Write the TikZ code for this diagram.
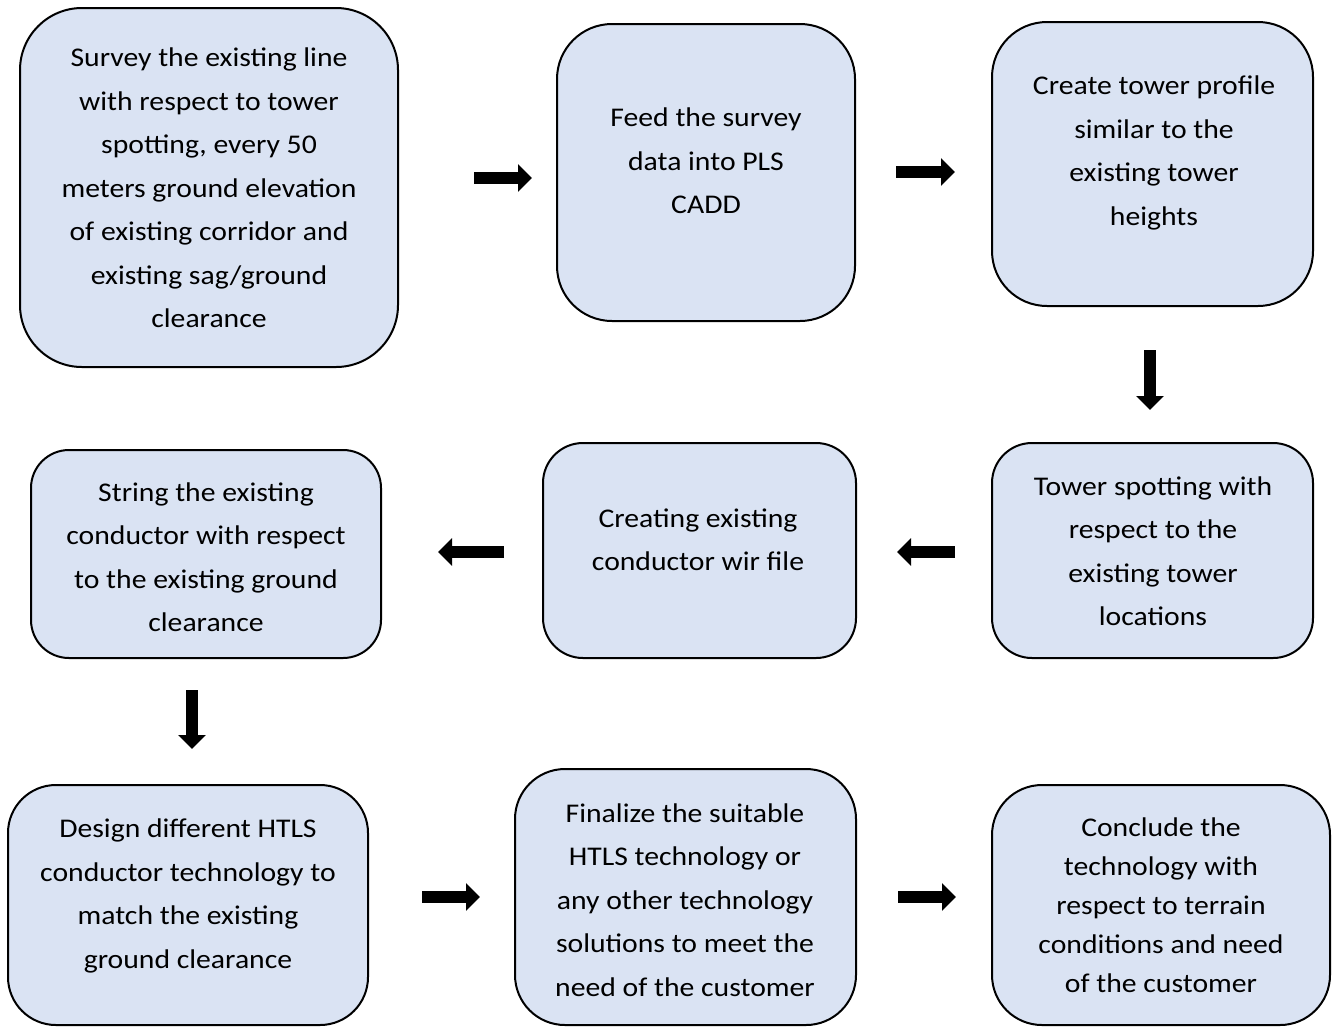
\documentclass[tikz,border=0pt]{standalone}
\usepackage{fontspec}
\setmainfont{Carlito}[FakeStretch=1.1]
\usetikzlibrary{arrows.meta}
\definecolor{boxblue}{HTML}{DAE3F3}
\tikzset{
	stepbox/.style={line width=2pt, draw=black, fill=boxblue},
	steptext/.style={align=center, inner sep=0pt, font=\fontsize{27}{43.5}\selectfont},
	blockarrow/.style={line width=12pt, -{Triangle[width=27pt,length=14pt]}}
}
\begin{document}
\begin{tikzpicture}[x=1pt, y=-1pt]
	\useasboundingbox (0,0) rectangle (1337,1026);
	% obere Reihe
	\filldraw[stepbox, rounded corners=62pt] (20,8) rectangle (398,367);
	\node[steptext] (survey) at (209,188) {Survey the existing line\\with respect to tower\\spotting, every 50\\meters ground elevation\\of existing corridor and\\existing sag/ground\\clearance};
	\filldraw[stepbox, rounded corners=55pt] (557,24) rectangle (855,321);
	\node[steptext] (feed) at (706,161) {Feed the survey\\data into PLS\\CADD};
	\filldraw[stepbox, rounded corners=55pt] (992,22) rectangle (1313,306);
	\node[steptext] (profile) at (1154,153) {Create tower profile\\similar to the\\existing tower\\heights};
	% mittlere Reihe
	\filldraw[stepbox, rounded corners=40pt] (992,443) rectangle (1313,658);
	\node[steptext] (spotting) at (1153,551) {Tower spotting with\\respect to the\\existing tower\\locations};
	\filldraw[stepbox, rounded corners=40pt] (543,443) rectangle (856,658);
	\node[steptext] (wirfile) at (698,540) {Creating existing\\conductor wir file};
	\filldraw[stepbox, rounded corners=38pt] (31,450) rectangle (381,658);
	\node[steptext] (string) at (206,557) {String the existing\\conductor with respect\\to the existing ground\\clearance};
	% untere Reihe
	\filldraw[stepbox, rounded corners=48pt] (8,785) rectangle (368,1025);
	\node[steptext] (design) at (188,896) {Design different HTLS\\conductor technology to\\match the existing\\ground clearance};
	\filldraw[stepbox, rounded corners=50pt] (515,769) rectangle (856,1025);
	\node[steptext] (finalize) at (685,900) {Finalize the suitable\\HTLS technology or\\any other technology\\solutions to meet the\\need of the customer};
	\filldraw[stepbox, rounded corners=50pt] (992,785) rectangle (1330,1025);
	\node[steptext, font=\fontsize{27}{39}\selectfont] (conclude) at (1161,905) {Conclude the\\technology with\\respect to terrain\\conditions and need\\of the customer};
	% Pfeile
	\coordinate (a1s) at (474,178); \coordinate (a1e) at (532,178);
	\coordinate (a2s) at (896,172); \coordinate (a2e) at (955,172);
	\coordinate (a3s) at (1150,350); \coordinate (a3e) at (1150,410);
	\coordinate (a4s) at (955,552); \coordinate (a4e) at (897,552);
	\coordinate (a5s) at (504,552); \coordinate (a5e) at (438,552);
	\coordinate (a6s) at (192,690); \coordinate (a6e) at (192,749);
	\coordinate (a7s) at (422,897); \coordinate (a7e) at (480,897);
	\coordinate (a8s) at (898,897); \coordinate (a8e) at (956,897);
	\foreach \n in {1,...,8}
		\draw[blockarrow] (a\n s) -- (a\n e);
\end{tikzpicture}
\end{document}
